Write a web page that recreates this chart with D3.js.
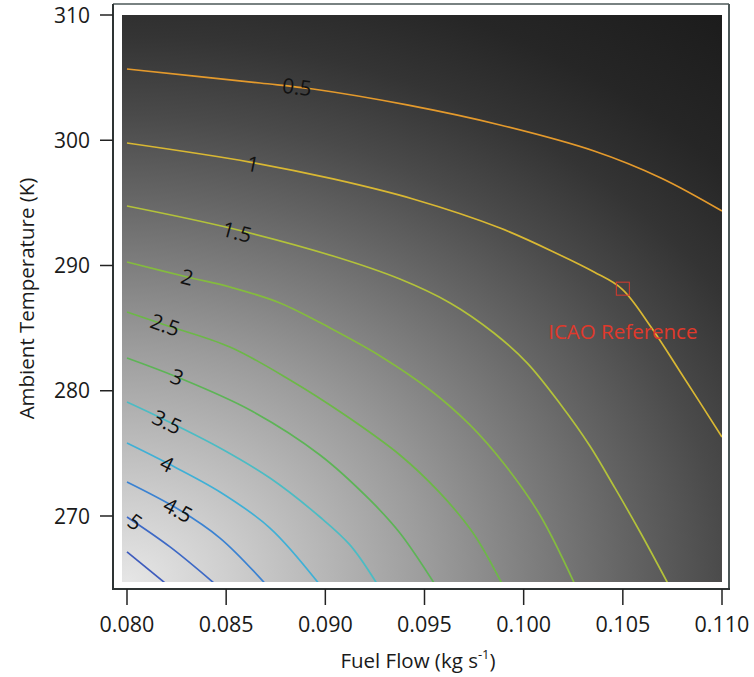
<!DOCTYPE html>
<html>
<head>
<meta charset="utf-8">
<script src="https://cdn.jsdelivr.net/npm/d3@7"></script>
<style>
  html, body { margin: 0; padding: 0; background: #ffffff; }
  svg { display: block; }
  text { font-family: "Open Sans", "DejaVu Sans", sans-serif; }
</style>
</head>
<body>
<svg id="chart" width="754" height="677"></svg>
<script>
// ---------------- DATA ----------------
const fuelTicks = [0.080, 0.085, 0.090, 0.095, 0.100, 0.105, 0.110];
const tempTicks = [270, 280, 290, 300, 310];
const fuelTickLabels = ["0.080", "0.085", "0.090", "0.095", "0.100", "0.105", "0.110"];
const tempTickLabels = ["270", "280", "290", "300", "310"];

const levels = [0.5, 1, 1.5, 2, 2.5, 3, 3.5, 4, 4.5, 5, 5.5];
const levelLabels = ["0.5", "1", "1.5", "2", "2.5", "3", "3.5", "4", "4.5", "5", ""];

// contour lines: [fuel flow (kg/s), ambient temperature (K)]
const contour05 = [[0.0800,305.69],[0.08671,304.57],[0.08938,304.09],[0.09412,302.82],[0.09881,301.22],[0.10355,299.14],[0.10692,296.99],[0.1100,294.35]];
const contour10 = [[0.0800,299.78],[0.08620,298.26],[0.09039,296.91],[0.09442,295.31],[0.09881,292.99],[0.10183,290.84],[0.10355,289.48],[0.10496,288.12],[0.10642,285.09],[0.10793,281.42],[0.1100,276.31]];
const contour15 = [[0.0800,294.75],[0.08519,292.99],[0.09039,290.76],[0.09376,288.92],[0.09629,287.01],[0.09850,284.61],[0.10017,282.22],[0.10188,278.86],[0.10334,275.59],[0.10460,272.24],[0.10587,268.72],[0.10726,264.65]];
const contour20 = [[0.0800,290.28],[0.08303,289.08],[0.08519,288.28],[0.08771,287.01],[0.09024,285.01],[0.09276,282.78],[0.09528,280.06],[0.09729,277.27],[0.09906,274.07],[0.10082,270.08],[0.10255,264.65]];
const contour25 = [[0.0800,286.29],[0.08192,285.25],[0.08519,283.49],[0.08822,280.86],[0.09099,278.06],[0.09376,274.87],[0.09578,271.84],[0.09745,268.64],[0.09889,264.65]];
const contour30 = [[0.0800,282.62],[0.08252,281.10],[0.08620,278.46],[0.08973,274.87],[0.09225,271.28],[0.09376,268.64],[0.09548,264.65]];
const contour35 = [[0.0800,279.10],[0.08202,277.59],[0.08469,275.43],[0.08721,273.03],[0.08973,269.92],[0.09124,267.69],[0.09258,264.65]];
const contour40 = [[0.0800,275.83],[0.08202,274.23],[0.08469,271.92],[0.08721,269.04],[0.08965,264.65]];
const contour45 = [[0.0800,272.72],[0.08257,270.56],[0.08469,268.24],[0.08694,264.65]];
const contour50 = [[0.0800,269.92],[0.08217,267.53],[0.08438,264.65]];
const contour55 = [[0.0800,267.13],[0.08192,264.65]];

// label anchor positions on the lines: [fuel, temp]
const labelPositions = [[0.08857,304.25],[0.08635,298.10],[0.08555,292.67],[0.08303,289.08],[0.08192,285.25],[0.08252,281.10],[0.08202,277.50],[0.08202,274.15],[0.08257,270.48],[0.08040,269.52],null];

// ICAO reference point
const icaoPoint = [0.105, 288.15];
const icaoLabel = "ICAO Reference";

const xTitle = "Fuel Flow (kg s";
const xTitleSup = "-1";
const yTitle = "Ambient Temperature (K)";

// ---------------- STYLE ----------------
const levelColors = ["#e49a2c","#d9b833","#b3c23a","#84bb3e","#6cb847","#5db456","#4bbcc4","#3fb0d6","#3a82d2","#3d69c6","#3d5bbd"];

// ---------------- DRAW ----------------
const svg = d3.select("#chart");
const plot = {left: 122, right: 722, top: 15, bottom: 582};
const frame = {left: 113, right: 729, top: 4, bottom: 589};

const x = d3.scaleLinear().domain([0.079748, 0.110]).range([plot.left, plot.right]);
const y = d3.scaleLinear().domain([264.73, 310]).range([plot.bottom, plot.top]);

const defs = svg.append("defs");
const gcx = plot.left + 5, gcy = plot.bottom;
const grad = defs.append("radialGradient")
  .attr("id", "bg")
  .attr("gradientUnits", "userSpaceOnUse")
  .attr("cx", gcx).attr("cy", gcy)
  .attr("r", 950)
  .attr("gradientTransform", `translate(${gcx},${gcy}) scale(1,0.78) translate(${-gcx},${-gcy})`);
[[0, "#e6e6e6"], [0.105, "#cfcfcf"], [0.21, "#b6b6b6"], [0.316, "#9c9c9c"], [0.42, "#808080"],
 [0.526, "#646464"], [0.63, "#4a4a4a"], [0.737, "#343434"], [0.84, "#262626"], [1, "#1b1b1b"]]
  .forEach(([o, c]) => grad.append("stop").attr("offset", o).attr("stop-color", c));

defs.append("clipPath").attr("id", "clip")
  .append("rect").attr("x", plot.left).attr("y", plot.top)
  .attr("width", plot.right - plot.left).attr("height", plot.bottom - plot.top);

// background image
svg.append("rect")
  .attr("x", plot.left).attr("y", plot.top)
  .attr("width", plot.right - plot.left).attr("height", plot.bottom - plot.top)
  .attr("fill", "url(#bg)");

// contours
const contours = [contour05, contour10, contour15, contour20, contour25, contour30, contour35, contour40, contour45, contour50, contour55];
const line = d3.line().x(d => x(d[0])).y(d => y(d[1])).curve(d3.curveCatmullRom.alpha(0.5));
const gC = svg.append("g").attr("clip-path", "url(#clip)");
contours.forEach((pts, i) => {
  gC.append("path").attr("d", line(pts))
    .attr("fill", "none").attr("stroke", levelColors[i]).attr("stroke-width", 1.7);
});

// contour labels
function slopeAngle(pts, lx) {
  const p = pts.map(d => [x(d[0]), y(d[1])]);
  for (let k = 0; k < p.length - 1; k++) {
    if (lx >= p[k][0] && lx <= p[k + 1][0]) {
      return Math.atan2(p[k + 1][1] - p[k][1], p[k + 1][0] - p[k][0]) * 180 / Math.PI;
    }
  }
  return Math.atan2(p[1][1] - p[0][1], p[1][0] - p[0][0]) * 180 / Math.PI;
}
labelPositions.forEach((lp, i) => {
  if (!lp || !levelLabels[i]) return;
  const lx = x(lp[0]), ly = y(lp[1]);
  const a = slopeAngle(contours[i], lx);
  svg.append("text")
    .attr("transform", `translate(${lx},${ly}) rotate(${a})`)
    .attr("text-anchor", "middle").attr("dy", "0.36em")
    .attr("font-size", 21).attr("fill", "#111")
    .text(levelLabels[i]);
});

// ICAO reference
svg.append("rect")
  .attr("x", x(icaoPoint[0]) - 6.5).attr("y", y(icaoPoint[1]) - 6.5)
  .attr("width", 13).attr("height", 13)
  .attr("fill", "none").attr("stroke", "#d83a2e").attr("stroke-width", 1);
svg.append("text")
  .attr("x", x(icaoPoint[0])).attr("y", y(icaoPoint[1]) + 50)
  .attr("text-anchor", "middle")
  .attr("font-size", 20.5).attr("fill", "#e0392b")
  .text(icaoLabel);

// frame
svg.append("line").attr("x1", frame.left).attr("x2", frame.right).attr("y1", frame.top).attr("y2", frame.top)
  .attr("stroke", "#4d5858").attr("stroke-width", 1.5);
svg.append("line").attr("x1", frame.right).attr("x2", frame.right).attr("y1", frame.top).attr("y2", frame.bottom)
  .attr("stroke", "#4d5858").attr("stroke-width", 2);
svg.append("line").attr("x1", frame.left).attr("x2", frame.left).attr("y1", frame.top).attr("y2", frame.bottom + 1)
  .attr("stroke", "#2e3434").attr("stroke-width", 2);
svg.append("line").attr("x1", frame.left).attr("x2", frame.right + 1).attr("y1", frame.bottom).attr("y2", frame.bottom)
  .attr("stroke", "#2e3434").attr("stroke-width", 2);

// y axis
const yAxis = svg.append("g");
tempTicks.forEach((t, i) => {
  yAxis.append("line").attr("x1", frame.left - 13).attr("x2", frame.left)
    .attr("y1", y(t)).attr("y2", y(t)).attr("stroke", "#222").attr("stroke-width", 1.5);
  yAxis.append("text").attr("x", frame.left - 23).attr("y", y(t)).attr("dy", "0.36em")
    .attr("text-anchor", "end").attr("font-size", 21).attr("fill", "#1a1a1a")
    .text(tempTickLabels[i]);
});
// x axis
const xAxis = svg.append("g");
fuelTicks.forEach((f, i) => {
  xAxis.append("line").attr("x1", x(f)).attr("x2", x(f))
    .attr("y1", frame.bottom).attr("y2", frame.bottom + 16).attr("stroke", "#222").attr("stroke-width", 1.5);
  xAxis.append("text").attr("x", x(f)).attr("y", frame.bottom + 43)
    .attr("text-anchor", "middle").attr("font-size", 21.5).attr("fill", "#1a1a1a")
    .text(fuelTickLabels[i]);
});

// axis titles
const xt = svg.append("text").attr("x", 418).attr("y", 668)
  .attr("text-anchor", "middle").attr("font-size", 20.5).attr("fill", "#1a1a1a");
xt.append("tspan").text(xTitle);
xt.append("tspan").attr("font-size", 13).attr("dy", -9).text(xTitleSup);
xt.append("tspan").attr("dy", 9).text(")");

svg.append("text")
  .attr("transform", `translate(34,${(plot.top + plot.bottom) / 2}) rotate(-90)`)
  .attr("text-anchor", "middle").attr("font-size", 20.5).attr("fill", "#1a1a1a")
  .text(yTitle);
</script>
</body>
</html>
